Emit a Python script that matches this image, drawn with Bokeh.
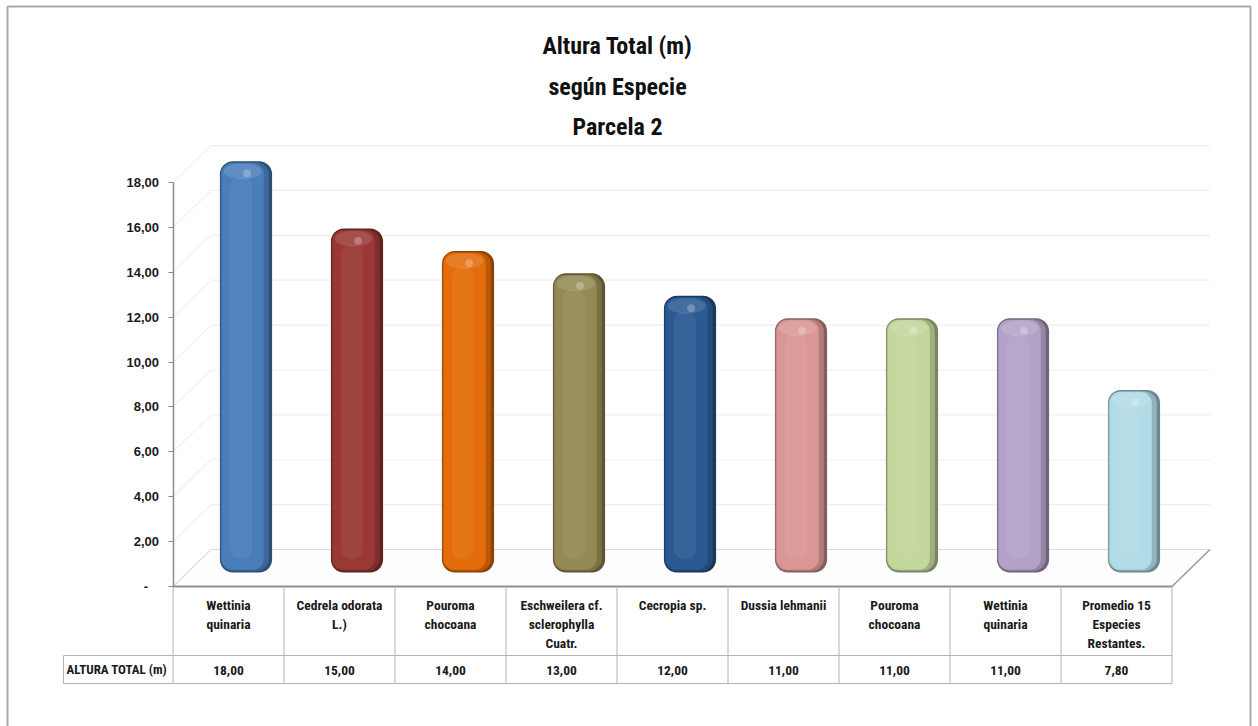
from bokeh.plotting import figure
from bokeh.models import Range1d, LinearAxis, FixedTicker
from bokeh.core.properties import value
from bokeh.embed import file_html
from bokeh.resources import INLINE

# ---- data -------------------------------------------------------------
especies = [
    "Wettinia\nquinaria",
    "Cedrela odorata\nL.)",
    "Pouroma\nchocoana",
    "Eschweilera cf.\nsclerophylla\nCuatr.",
    "Cecropia sp.",
    "Dussia lehmanii",
    "Pouroma\nchocoana",
    "Wettinia\nquinaria",
    "Promedio 15\nEspecies\nRestantes.",
]
altura = [18.0, 15.0, 14.0, 13.0, 12.0, 11.0, 11.0, 11.0, 7.8]
colores = ["#4a7ebb", "#9a3835", "#e46c0a", "#948a54", "#2b5a93",
           "#d99694", "#c3d69b", "#b3a2c7", "#b1dbe6"]
ticks_y = [0, 2, 4, 6, 8, 10, 12, 14, 16, 18]
fila_titulo = "ALTURA TOTAL (m)"
titulo = ["Altura Total (m)", "según Especie", "Parcela 2"]

# ---- layout constants (pixels of the page) ------------------------------
W, H = 1258, 726
X0_PX, CAT_PX = 172.5, 111.0      # left of first category, category width
Y0_PX, UNIT_PX = 586.0, 22.44     # y of value 0, pixels per metre


def xd(px):
    return (px - X0_PX) / CAT_PX


def yd(px):
    return (Y0_PX - px) / UNIT_PX


n = len(altura)
DEPTH_X, DEPTH_Y = 38.0 / CAT_PX, 37.0 / UNIT_PX      # back wall offset
BAR_DX, BAR_DY = 17.5 / CAT_PX, 14.0 / UNIT_PX        # bar depth offset
CAP = 0.33                                            # rounded top of bars
BAR_W = 0.47

FONT_NARROW = "'Roboto Condensed', 'Liberation Sans Narrow', 'DejaVu Sans Condensed', sans-serif"
FONT_TICK = "'Liberation Sans', Arial, sans-serif"

p = figure(width=W, height=H, x_range=Range1d(xd(0), xd(W)),
           y_range=Range1d(yd(H), yd(0)), x_axis_type=None, y_axis_type=None,
           toolbar_location=None, output_backend="svg", min_border=0,
           outline_line_color=None, background_fill_color="white",
           border_fill_color="white")
p.xgrid.visible = False
p.ygrid.visible = False

# outer frame
p.quad(left=[xd(7)], right=[xd(1250)], top=[yd(6)], bottom=[yd(760)],
       fill_color=None, line_color="#a9a9a9", line_width=2)

# back wall and side wall grid
grid_v = [t for t in ticks_y if t > 0]
p.multi_line(xs=[[DEPTH_X, n + DEPTH_X] for _ in grid_v],
             ys=[[t + DEPTH_Y, t + DEPTH_Y] for t in grid_v],
             line_color="#efefef", line_width=1.2)
p.multi_line(xs=[[0, DEPTH_X] for _ in grid_v],
             ys=[[t, t + DEPTH_Y] for t in grid_v],
             line_color="#f1f1f1", line_width=1.2)

# floor
p.patch(x=[0, n, n + DEPTH_X, DEPTH_X], y=[0, 0, DEPTH_Y, DEPTH_Y],
        fill_color="#fdfdfd", line_color=None)
p.line(x=[DEPTH_X, n + DEPTH_X], y=[DEPTH_Y, DEPTH_Y], line_color="#dcdcdc", line_width=1.2)
p.line(x=[0, DEPTH_X], y=[0, DEPTH_Y], line_color="#dedede", line_width=1.2)
p.line(x=[n, n + DEPTH_X], y=[0, DEPTH_Y], line_color="#9a9a9a", line_width=1.5)


def mix(hex_color, other, t):
    c = [int(hex_color[i:i + 2], 16) for i in (1, 3, 5)]
    o = [0, 0, 0] if other == "black" else [255, 255, 255]
    return "#%02x%02x%02x" % tuple(int(round(a + (b - a) * t)) for a, b in zip(c, o))


xc = [i + 0.5 + BAR_DX for i in range(n)]
tops = [v + BAR_DY + CAP for v in altura]
base = [BAR_DY] * n
dark = [mix(c, "black", 0.38) for c in colores]
mid = [mix(c, "black", 0.18) for c in colores]
light = [mix(c, "white", 0.35) for c in colores]

# bars: dark rim, shaded right side, body, soft highlight and top face
p.vbar(x=xc, width=BAR_W, bottom=base, top=tops, fill_color=dark,
       line_color=None, border_radius=13)
p.vbar(x=[x - 0.012 for x in xc], width=BAR_W - 0.035,
       bottom=[b + 0.08 for b in base], top=[t - 0.06 for t in tops],
       fill_color=mid, line_color=None, border_radius=12)
p.vbar(x=[x - 0.03 for x in xc], width=BAR_W - 0.09,
       bottom=[b + 0.12 for b in base], top=[t - 0.08 for t in tops],
       fill_color=colores, line_color=None, border_radius=11)
p.vbar(x=[x - 0.045 for x in xc], width=0.2,
       bottom=[b + 0.6 for b in base], top=[t - 0.7 for t in tops],
       fill_color=light, fill_alpha=0.16, line_color=None, border_radius=10)
p.ellipse(x=[x - 0.03 for x in xc], y=[t - 0.45 for t in tops],
          width=0.34, height=0.7, fill_color=light, fill_alpha=0.35,
          line_color=None)
p.ellipse(x=[x + 0.01 for x in xc], y=[t - 0.55 for t in tops],
          width=0.07, height=0.35, fill_color="white", fill_alpha=0.25,
          line_color=None)

# front floor edge
p.line(x=[0, n], y=[0, 0], line_color="#8f8f8f", line_width=2)

# y axis at the front-left corner
ax = LinearAxis(fixed_location=0, ticker=FixedTicker(ticks=ticks_y, minor_ticks=[]))
ax.bounds = (0, ticks_y[-1])
ax.major_label_overrides = {t: ("-\u00a0\u00a0\u00a0" if t == 0 else f"{t:.2f}".replace(".", ","))
                            for t in ticks_y}
ax.axis_line_color = "#8c8c8c"
ax.axis_line_width = 1.5
ax.major_tick_line_color = "#8c8c8c"
ax.major_tick_out = 5
ax.major_tick_in = 0
ax.minor_tick_out = 0
ax.minor_tick_in = 0
ax.major_label_standoff = 9
ax.major_label_text_font = FONT_TICK
ax.major_label_text_font_style = "bold"
ax.major_label_text_font_size = "13px"
ax.major_label_text_color = "#1a1a1a"
p.add_layout(ax, "left")

# data table under the chart
row_mid, row_bot = yd(655), yd(683)
label_left = xd(63)
p.multi_line(xs=[[i, i] for i in range(n + 1)],
             ys=[[0, row_bot] for _ in range(n + 1)],
             line_color="#b4b4b4", line_width=1)
p.multi_line(xs=[[label_left, n], [label_left, n], [label_left, label_left]],
             ys=[[row_mid, row_mid], [row_bot, row_bot], [row_mid, row_bot]],
             line_color="#b4b4b4", line_width=1)

TABLE_SIZE = "13.5px"
max_lines = max(len(e.split("\n")) for e in especies)
for k in range(max_lines):
    xs, txt = [], []
    for i, e in enumerate(especies):
        parts = e.split("\n")
        if k < len(parts):
            xs.append(i + 0.5)
            txt.append(parts[k])
    p.text(x=xs, y=[yd(604 + 19 * k)] * len(xs), text=txt,
           text_font=value(FONT_NARROW), text_font_style="bold",
           text_font_size=TABLE_SIZE, text_color="#1a1a1a",
           text_align="center", text_baseline="middle")

p.text(x=[i + 0.5 for i in range(n)], y=[yd(670)] * n,
       text=[f"{v:.2f}".replace(".", ",") for v in altura],
       text_font=value(FONT_NARROW), text_font_style="bold",
       text_font_size=TABLE_SIZE, text_color="#1a1a1a",
       text_align="center", text_baseline="middle")
p.text(x=[xd(66)], y=[yd(669)], text=[fila_titulo],
       text_font=value(FONT_NARROW), text_font_style="bold",
       text_font_size="13px", text_color="#1a1a1a",
       text_align="left", text_baseline="middle")

# title
p.text(x=[xd(617)] * len(titulo), y=[yd(45), yd(86), yd(126)], text=titulo,
       text_font=value(FONT_NARROW), text_font_style="bold",
       text_font_size="24px", text_color="#111111",
       text_align="center", text_baseline="middle")

open("out.html", "w").write(file_html(p, INLINE))
